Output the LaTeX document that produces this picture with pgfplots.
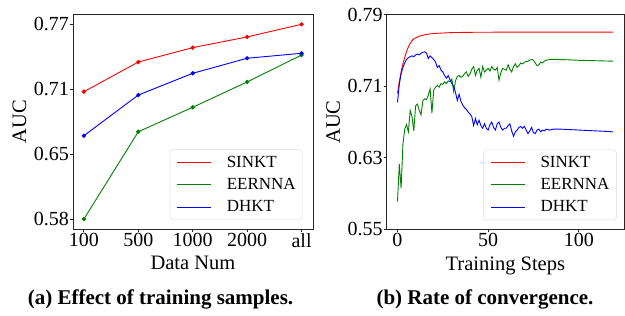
\documentclass[border=0pt]{standalone}
\usepackage{fontspec}
\setmainfont{Liberation Serif}
\usepackage{pgfplots}
\pgfplotsset{compat=1.18}
\definecolor{mred}{RGB}{255,0,0}
\definecolor{mgreen}{RGB}{0,128,0}
\definecolor{mblue}{RGB}{0,0,255}
\pgfplotsset{
  myaxis/.style={
    scale only axis,
    axis line style={line width=0.8pt, black!85},
    tick align=outside, major tick length=3pt,
    xtick pos=left, ytick pos=left,
    tick style={line width=0.8pt, black!85},
    ticklabel style={font=\fontsize{20}{24}\selectfont, inner sep=0pt},
    label style={font=\fontsize{20.5}{24}\selectfont},
    /pgf/number format/assume math mode=true,
    legend cell align=left,
    legend style={anchor=south east, draw=black!15, rounded corners=3pt,
      inner xsep=7pt, inner ysep=6.5pt, font=\fontsize{17}{20}\selectfont,
      row sep=9.5pt, nodes={inner sep=0pt}},
    legend image code/.code={\draw[#1,mark=none,line width=0.9pt] (0pt,0pt) -- (34pt,0pt); \path (49pt,0pt);},
    ylabel style={at={(axis description cs:0,0.5)}, anchor=center, yshift=53.5pt},
    xlabel style={at={(axis description cs:0.5,0)}, anchor=base, yshift=-41pt},
    xticklabel style={yshift=-1pt},
    yticklabel style={xshift=-1pt},
  }
}
\begin{document}
\begin{tikzpicture}[x=1pt,y=1pt]
\useasboundingbox (0,0) rectangle (625,316);
\begin{axis}[myaxis, at={(73pt,87pt)}, anchor=south west,
  width=240pt, height=215pt,
  xmin=-0.2, xmax=4.21, ymin=0.5758, ymax=0.7745,
  xtick={0,1,2,3,4}, xticklabels={100,500,1000,2000,all},
  ytick={0.585,0.645,0.705,0.765}, yticklabels={0.58,0.65,0.71,0.77},
  xlabel={Data Num}, ylabel={AUC},
  legend style={at={(axis description cs:0.958,0.042)}},
  every axis plot/.append style={line width=0.9pt, mark=*, mark size=1.7pt},
]
\addplot[mred, mark options={fill=mred, draw=mred}] coordinates {(0,0.7027)(1,0.7301)(2,0.7434)(3,0.7533)(4,0.765)};
\addlegendentry{SINKT}
\addplot[mgreen, mark options={fill=mgreen, draw=mgreen}] coordinates {(0,0.585)(1,0.6657)(2,0.6883)(3,0.7117)(4,0.7366)};
\addlegendentry{EERNNA}
\addplot[mblue, mark options={fill=mblue, draw=mblue}] coordinates {(0,0.662)(1,0.6996)(2,0.7197)(3,0.7336)(4,0.7382)};
\addlegendentry{DHKT}
\end{axis}

\begin{axis}[myaxis, at={(386.7pt,86.7pt)}, anchor=south west,
  width=237.3pt, height=214.6pt,
  xmin=-5.95, xmax=124.95, ymin=0.55, ymax=0.79,
  xtick={0,50,100},
  ytick={0.55,0.63,0.71,0.79},
  yticklabel style={/pgf/number format/.cd, fixed, fixed zerofill, precision=2},
  xlabel={Training Steps}, ylabel={AUC},
  legend style={at={(axis description cs:0.969,0.043)}},
  every axis plot/.append style={line width=0.9pt, mark=none},
]
\addplot[mred] coordinates {(0,0.702)(1,0.715)(2,0.726)(3,0.735)(4,0.742)(5,0.749)(6,0.754)(7,0.758)(8,0.761)(9,0.763)(10,0.764)(12,0.766)(14,0.767)(16,0.768)(18,0.7685)(20,0.769)(25,0.7695)(30,0.770)(40,0.7703)(60,0.7705)(80,0.7705)(100,0.7705)(119,0.7705)};
\addlegendentry{SINKT}
\addplot[mgreen] coordinates {(0,0.581)(1,0.623)(2,0.596)(3,0.645)(4,0.662)(5,0.667)(6,0.659)(7,0.683)(8,0.676)(9,0.660)(10,0.688)(11,0.690)(12,0.683)(13,0.678)(14,0.694)(15,0.696)(16,0.695)(17,0.700)(18,0.707)(19,0.680)(20,0.706)(21,0.709)(22,0.711)(23,0.709)(24,0.713)(25,0.712)(26,0.715)(27,0.713)(28,0.716)(29,0.715)(30,0.718)(31,0.704)(32,0.716)(33,0.721)(34,0.722)(35,0.720)(36,0.721)(37,0.724)(38,0.726)(39,0.721)(40,0.724)(41,0.729)(42,0.732)(43,0.722)(44,0.728)(45,0.730)(46,0.720)(47,0.732)(48,0.726)(49,0.728)(50,0.730)(51,0.727)(52,0.732)(53,0.729)(54,0.728)(55,0.731)(56,0.717)(57,0.725)(58,0.730)(59,0.729)(60,0.728)(61,0.734)(62,0.729)(63,0.726)(64,0.732)(65,0.735)(66,0.731)(67,0.733)(68,0.736)(69,0.735)(70,0.737)(72,0.738)(74,0.740)(75,0.739)(76,0.736)(77,0.733)(78,0.734)(79,0.737)(80,0.736)(81,0.738)(82,0.739)(84,0.740)(88,0.740)(95,0.7395)(100,0.739)(110,0.7385)(119,0.738)};
\addlegendentry{EERNNA}
\addplot[mblue] coordinates {(0,0.692)(1,0.712)(2,0.724)(3,0.731)(4,0.736)(5,0.740)(6,0.742)(7,0.743)(8,0.744)(9,0.743)(10,0.745)(11,0.746)(12,0.745)(13,0.747)(14,0.748)(15,0.7485)(16,0.747)(17,0.741)(18,0.744)(19,0.742)(20,0.740)(21,0.737)(22,0.731)(23,0.733)(24,0.728)(25,0.726)(26,0.722)(27,0.719)(28,0.722)(29,0.717)(30,0.713)(31,0.710)(32,0.703)(33,0.694)(34,0.701)(35,0.693)(36,0.689)(37,0.686)(38,0.684)(39,0.681)(40,0.679)(41,0.676)(42,0.666)(43,0.674)(44,0.667)(45,0.672)(46,0.666)(47,0.663)(48,0.668)(49,0.663)(50,0.661)(51,0.667)(52,0.670)(53,0.664)(54,0.661)(55,0.668)(56,0.670)(57,0.664)(58,0.661)(59,0.663)(60,0.663)(61,0.666)(62,0.668)(63,0.660)(64,0.654)(65,0.659)(66,0.661)(67,0.664)(68,0.665)(69,0.663)(70,0.665)(71,0.661)(72,0.657)(73,0.660)(74,0.664)(75,0.658)(76,0.657)(77,0.661)(78,0.662)(79,0.659)(80,0.661)(81,0.660)(82,0.662)(84,0.661)(86,0.662)(90,0.662)(95,0.6615)(100,0.661)(105,0.6605)(110,0.660)(115,0.6595)(119,0.659)};
\addlegendentry{DHKT}
\end{axis}

\node[anchor=base, font=\bfseries\fontsize{21}{24}\selectfont] at (160.5,11) {(a) Effect of training samples.};
\node[anchor=base, font=\bfseries\fontsize{21}{24}\selectfont] at (485,11) {(b) Rate of convergence.};
\end{tikzpicture}
\end{document}
